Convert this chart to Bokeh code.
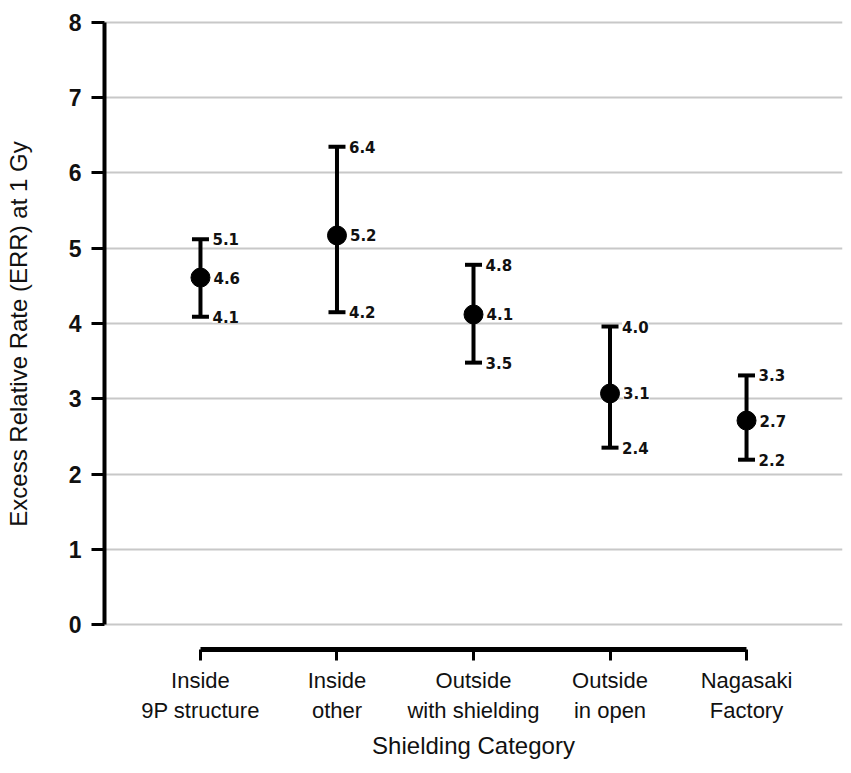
from bokeh.plotting import figure
from bokeh.models import ColumnDataSource, Whisker, TeeHead, FixedTicker, Range1d
from bokeh.core.properties import value
from bokeh.embed import file_html
from bokeh.resources import INLINE

categories = ["Inside\n9P structure", "Inside\nother", "Outside\nwith shielding",
              "Outside\nin open", "Nagasaki\nFactory"]
err_mean = [4.61, 5.17, 4.12, 3.07, 2.71]
err_upper = [5.12, 6.35, 4.78, 3.96, 3.31]
err_lower = [4.09, 4.15, 3.48, 2.35, 2.19]
label_mean = ["4.6", "5.2", "4.1", "3.1", "2.7"]
label_upper = ["5.1", "6.4", "4.8", "4.0", "3.3"]
label_lower = ["4.1", "4.2", "3.5", "2.4", "2.2"]
y_ticks = [0, 1, 2, 3, 4, 5, 6, 7, 8]

xs = list(range(len(categories)))
src = ColumnDataSource(dict(x=xs, mean=err_mean, upper=err_upper, lower=err_lower,
                            lm=label_mean, lu=label_upper, ll=label_lower))

p = figure(width=851, height=773, output_backend="svg", toolbar_location=None,
           x_range=Range1d(-0.703, 4.703), y_range=Range1d(-0.332, 8.053),
           min_border_left=104, min_border_right=9, min_border_top=18, min_border_bottom=124)
p.outline_line_color = None
p.background_fill_color = "white"
p.border_fill_color = "white"

# grid
p.xgrid.visible = False
p.ygrid.ticker = FixedTicker(ticks=y_ticks)
p.ygrid.grid_line_color = "#c8c8c8"
p.ygrid.grid_line_width = 2

# y axis
ya = p.yaxis[0]
ya.ticker = FixedTicker(ticks=y_ticks)
ya.bounds = (0, 8)
ya.axis_line_width = 4
ya.axis_line_color = "black"
ya.major_tick_line_width = 3
ya.major_tick_out = 13
ya.major_tick_in = 0
ya.minor_tick_line_color = None
ya.major_label_text_font = "Liberation Sans"
ya.major_label_text_font_style = "bold"
ya.major_label_text_font_size = "23px"
ya.major_label_text_color = "#111111"
ya.major_label_standoff = 10
ya.axis_label = "Excess Relative Rate (ERR) at 1 Gy"
ya.axis_label_text_font = "Liberation Sans"
ya.axis_label_text_font_style = "normal"
ya.axis_label_text_font_size = "24px"
ya.axis_label_text_color = "#111111"
ya.axis_label_standoff = 34

# x axis
xa = p.xaxis[0]
xa.ticker = FixedTicker(ticks=xs)
xa.major_label_overrides = {i: c for i, c in zip(xs, categories)}
xa.bounds = (0, len(categories) - 1)
xa.axis_line_width = 5
xa.axis_line_color = "black"
xa.major_tick_line_width = 3
xa.major_tick_out = 11
xa.major_tick_in = 0
xa.minor_tick_line_color = None
xa.major_label_text_font = "Liberation Sans"
xa.major_label_text_font_size = "22px"
xa.major_label_text_color = "#111111"
xa.major_label_standoff = 7
xa.axis_label = "Shielding Category"
xa.axis_label_text_font = "Liberation Sans"
xa.axis_label_text_font_style = "normal"
xa.axis_label_text_font_size = "24px"
xa.axis_label_text_color = "#111111"
xa.axis_label_standoff = 6

# error bars
w = Whisker(source=src, base="x", upper="upper", lower="lower",
            line_width=4, line_color="black",
            upper_head=TeeHead(size=17, line_width=4, line_color="black"),
            lower_head=TeeHead(size=17, line_width=4, line_color="black"))
p.add_layout(w)

p.scatter("x", "mean", source=src, size=19, color="black")

lab_kw = dict(text_font=value("DejaVu Sans"), text_font_style="bold",
              text_font_size="15px", text_color="#111111", text_baseline="middle",
              background_fill_color="white")
p.text("x", "upper", text="lu", source=src, x_offset=12, **lab_kw)
p.text("x", "mean", text="lm", source=src, x_offset=13, **lab_kw)
p.text("x", "lower", text="ll", source=src, x_offset=12, **lab_kw)

open("out.html", "w").write(file_html(p, INLINE))
